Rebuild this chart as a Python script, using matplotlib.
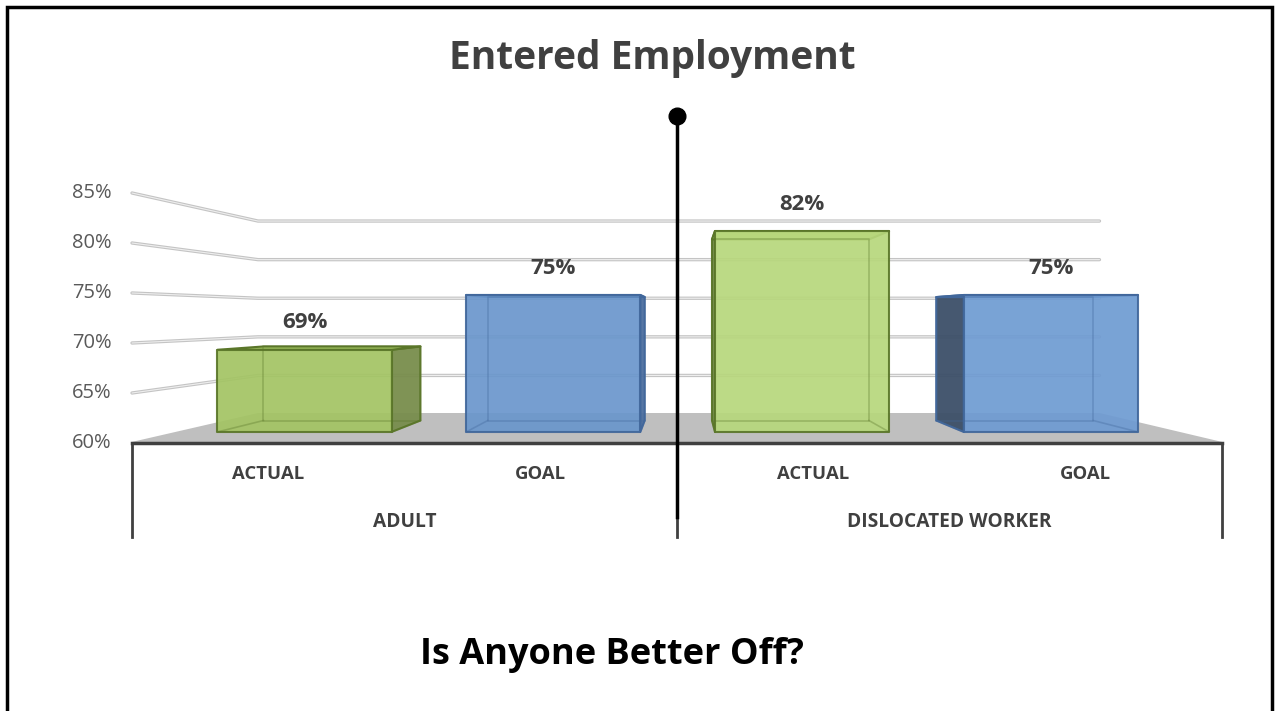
import matplotlib.pyplot as plt
from matplotlib.patches import Polygon, Rectangle

# chart data
groups = ["ADULT", "DISLOCATED WORKER"]
categories = ["ACTUAL", "GOAL", "ACTUAL", "GOAL"]
values = [69, 75, 82, 75]
value_labels = ["69%", "75%", "82%", "75%"]
y_ticks = [60, 65, 70, 75, 80, 85]

# colours per bar (front, side, edge)
front_colors = ["#a3c463", "#6a96cc", "#b7d77c", "#6e9bd2"]
side_colors = ["#788d4c", "#4d6f9f", "#6f8a45", "#3c4f68"]
edge_colors = ["#5a7629", "#41679b", "#5a7629", "#41679b"]

plt.rcParams["font.family"] = ["Open Sans", "DejaVu Sans"]

# fake perspective: vanishing point and depth scales (1 = front edge of floor)
VX, VY = 2.028, 72.7
S_WALL = 0.772
S_BAR_FRONT = 0.913
S_BAR_BACK = 0.823
BAR_W = 0.70
BASE = 60


def P(x, v, s):
    return (VX + (x - VX) * s, VY + (v - VY) * s)


fig = plt.figure(figsize=(12.75, 7.11), dpi=100)
ax = fig.add_axes([0, 0, 1, 1])
ax.set_xlim(-132 / 272.5, (1275 - 132) / 272.5)
ax.set_ylim(60 - (711 - 443) / 10, 60 + 443 / 10)
ax.axis("off")


def face(pts, fc, ec, alpha=1.0, z=3, fill=True, lw=1.5):
    ax.add_patch(Polygon([P(*p) for p in pts], closed=True, fc=fc, ec=ec,
                         lw=lw, alpha=alpha, zorder=z, fill=fill,
                         joinstyle="round"))


n = len(categories)

# floor
face([(0, BASE, 1), (0, BASE, S_WALL), (n, BASE, S_WALL), (n, BASE, 1)],
     "#bfbfbf", "#bfbfbf", z=1)

# gridlines on side wall and back wall
for v in y_ticks[1:]:
    pts = [P(0, v, 1), P(0, v, S_WALL), P(n, v, S_WALL)]
    xs, ys = zip(*pts)
    ax.plot(xs, ys, color="#c4c4c4", lw=2.4, zorder=1, solid_capstyle="round")
    ax.plot(xs, ys, color="#eeeeee", lw=0.8, zorder=1, solid_capstyle="round")

# y tick labels
for v in y_ticks:
    ax.text(-0.075, v, f"{v}%", ha="right", va="center", fontsize=14.5,
            color="#595959")

# bars
for i, v in enumerate(values):
    x0 = i + (1 - BAR_W) / 2
    x1 = x0 + BAR_W
    sf, sb = S_BAR_FRONT, S_BAR_BACK
    fc, sc, ec = front_colors[i], side_colors[i], edge_colors[i]
    # visible side face
    if x1 < VX:
        face([(x1, BASE, sf), (x1, BASE, sb), (x1, v, sb), (x1, v, sf)],
             sc, ec, alpha=0.95, z=4)
    if x0 > VX:
        face([(x0, BASE, sf), (x0, BASE, sb), (x0, v, sb), (x0, v, sf)],
             sc, ec, alpha=0.95, z=4)
    face([(x0, v, sf), (x1, v, sf), (x1, v, sb), (x0, v, sb)], fc, ec, z=4)
    # front face, slightly see-through
    face([(x0, BASE, sf), (x1, BASE, sf), (x1, v, sf), (x0, v, sf)], fc, ec,
         alpha=0.92, z=5)
    # hidden back edges showing through
    face([(x0, BASE, sb), (x1, BASE, sb), (x1, v, sb), (x0, v, sb)], fc, ec,
         alpha=0.35, z=5, fill=False, lw=1.2)
    for xe in (x0, x1):
        a, b = P(xe, BASE, sf), P(xe, BASE, sb)
        ax.plot([a[0], b[0]], [a[1], b[1]], color=ec, alpha=0.35, lw=1.2, zorder=5)
    ax.annotate(value_labels[i], xy=P(i + 0.5, v, sf), xytext=(0, 27),
                textcoords="offset pixels", ha="center", va="center",
                fontsize=16, fontweight="bold", color="#404040", zorder=6)

# category axis
ax.plot([0, n], [BASE, BASE], color="#404040", lw=2.5, zorder=6)
for xb in [0, n / 2, n]:
    ax.plot([xb, xb], [BASE, 50.6], color="#404040", lw=2, zorder=6)
for i, c in enumerate(categories):
    ax.text(i + 0.5, 56.9, c, ha="center", va="center", fontsize=13.3,
            fontweight="bold", color="#404040")
for g, name in enumerate(groups):
    ax.text(g * 2 + 1, 52.1, name, ha="center", va="center", fontsize=13.8,
            fontweight="bold", color="#404040")

# black pointer line with dot
ax.plot([2, 2], [52.6, 92.7], color="black", lw=2.5, zorder=7)
ax.plot([2], [92.7], "o", color="black", ms=12, zorder=7)

# texts
fig.text(652 / 1275, 1 - 58 / 711, "Entered Employment", ha="center",
         va="center", fontsize=28, fontweight="bold", color="#404040")
fig.text(612 / 1275, 1 - 655 / 711, "Is Anyone Better Off?", ha="center",
         va="center", fontsize=26, fontweight="bold", color="black")

# slide frame
fig.patches.append(Rectangle((7 / 1275, -0.1), 1265 / 1275, 1.1 - 7 / 711,
                             transform=fig.transFigure, fill=False,
                             ec="black", lw=2.5))

fig.savefig("out.png", dpi=100)
